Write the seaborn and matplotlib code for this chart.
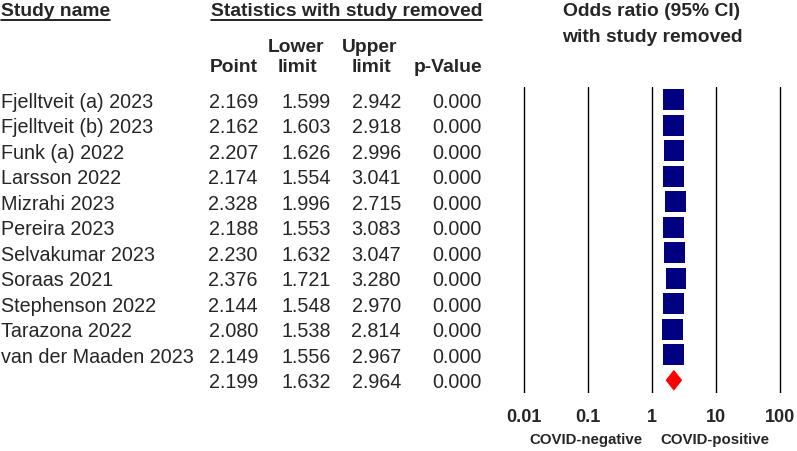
"""Leave-one-out forest plot — odds ratio with each study removed."""

import matplotlib

matplotlib.use("Agg")

import matplotlib.pyplot as plt
import numpy as np
import pandas as pd
import seaborn as sns

studies = [
    "Fjelltveit (a) 2023", "Fjelltveit (b) 2023", "Funk (a) 2022", "Larsson 2022",
    "Mizrahi 2023", "Pereira 2023", "Selvakumar 2023", "Soraas 2021",
    "Stephenson 2022", "Tarazona 2022", "van der Maaden 2023",
]
point = [2.169, 2.162, 2.207, 2.174, 2.328, 2.188, 2.230, 2.376, 2.144, 2.080, 2.149]
lower = [1.599, 1.603, 1.626, 1.554, 1.996, 1.553, 1.632, 1.721, 1.548, 1.538, 1.556]
upper = [2.942, 2.918, 2.996, 3.041, 2.715, 3.083, 3.047, 3.280, 2.970, 2.814, 2.967]
pvalue = [0.000] * 11

pooled = {"point": 2.199, "lower": 1.632, "upper": 2.964, "p": 0.000}
ticks = [0.01, 0.1, 1, 10, 100]
tick_labels = ["0.01", "0.1", "1", "10", "100"]

sns.set_style("white")
plt.rcParams["font.family"] = ["Liberation Sans", "DejaVu Sans"]

W, H = 797, 452
fig = plt.figure(figsize=(W / 100, H / 100), dpi=100)

# text layer in pixel coordinates
tx = fig.add_axes([0, 0, 1, 1])
tx.set_xlim(0, W)
tx.set_ylim(H, 0)
tx.axis("off")

top, bottom = 88, 394
n_rows = len(studies) + 1
row_h = (bottom - top) / n_rows
fs = 14.2
fs_b = 13.9

df = pd.DataFrame({"study": studies, "point": point, "lower": lower,
                   "upper": upper, "p": pvalue})
df["row"] = np.arange(len(df))

def row_y(i):
    return top + (i + 0.5) * row_h + 1.5

col_right = {"point": 258, "lower": 331, "upper": 401, "p": 482}
for i, r in df.iterrows():
    y = row_y(r["row"])
    tx.text(1, y, r["study"], ha="left", va="center", fontsize=fs)
    for k in ["point", "lower", "upper", "p"]:
        tx.text(col_right[k], y, f"{r[k]:.3f}", ha="right", va="center", fontsize=fs)
y = row_y(len(df))
for k in ["point", "lower", "upper", "p"]:
    tx.text(col_right[k], y, f"{pooled[k]:.3f}", ha="right", va="center", fontsize=fs)

# headers
bold = dict(fontsize=fs_b, fontweight="bold", va="center")
h1 = tx.text(1, 12, "Study name", ha="left", **bold)
h2 = tx.text(482, 12, "Statistics with study removed", ha="right", **bold)
tx.text(col_right["point"], 68, "Point", ha="right", **bold)
tx.text(296, 47, "Lower", ha="center", **bold)
tx.text(297, 68, "limit", ha="center", **bold)
tx.text(370, 47, "Upper", ha="center", **bold)
tx.text(371, 68, "limit", ha="center", **bold)
tx.text(col_right["p"], 68, "p-Value", ha="right", **bold)
tx.text(652, 12, "Odds ratio (95% CI)", ha="center", **bold)
tx.text(652, 38, "with study removed", ha="center", **bold)
tx.text(586, 440, "COVID-negative", ha="center", va="center", fontsize=10.8, fontweight="bold")
tx.text(715, 440, "COVID-positive", ha="center", va="center", fontsize=10.8, fontweight="bold")

fig.canvas.draw()
renderer = fig.canvas.get_renderer()
for t in (h1, h2):
    bb = t.get_window_extent(renderer)
    tx.plot([bb.x0, bb.x1], [21, 21], color="black", lw=1.2)

# forest axes
x0, x1 = 524, 780
pad = 4
ax = fig.add_axes([(x0 - pad) / W, (H - bottom) / H,
                   (x1 - x0 + 2 * pad) / W, (bottom - top) / H])
ax.set_xscale("log")
ax.set_xlim(10 ** (-2 - pad / 64), 10 ** (2 + pad / 64))
ax.set_ylim(n_rows - 0.5, -0.5)
for t in ticks:
    ax.axvline(t, color="black", lw=1.0, zorder=1)

ax.hlines(df["row"], df["lower"], df["upper"], color="black", lw=0.8, zorder=2)
sns.scatterplot(data=df, x="point", y="row", marker="s", s=225, color="#000080",
                edgecolor="none", ax=ax, zorder=3, legend=False)

yd = len(df)
ax.fill([pooled["lower"], pooled["point"], pooled["upper"], pooled["point"]],
        [yd, yd - 0.41, yd, yd + 0.41], color="#ff0000", lw=0, zorder=3)

ax.set_xticks(ticks)
ax.set_xticklabels(tick_labels, fontsize=13, fontweight="bold")
ax.minorticks_off()
ax.tick_params(axis="x", length=0, pad=11)
ax.set_yticks([])
ax.set_xlabel("")
ax.set_ylabel("")
for s in ax.spines.values():
    s.set_visible(False)
ax.patch.set_alpha(0)

fig.savefig("out.png", dpi=100)
